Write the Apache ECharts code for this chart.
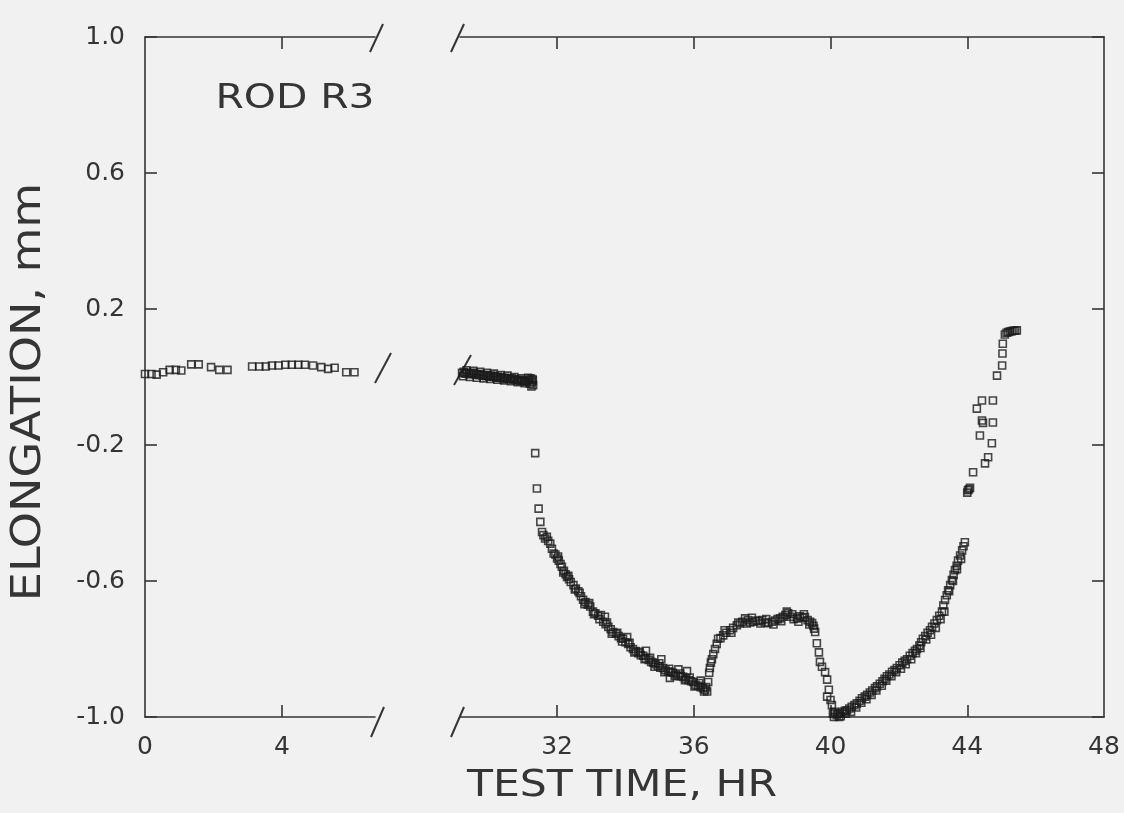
<!DOCTYPE html>
<html><head><meta charset="utf-8">
<script src="https://cdn.jsdelivr.net/npm/echarts@6/dist/echarts.min.js"></script>
<style>html,body{margin:0;padding:0;background:#f1f1f1}#c{width:1124px;height:813px}</style>
</head><body><div id="c"></div>
<script>
// ---- data ----
const yTickLabels = [-1.0, -0.6, -0.2, 0.2, 0.6, 1.0];
const xTicksLeft = [4];
const xLabelsLeft = [0, 4];
const xTicksRight = [32, 36, 40, 44];
const xLabelsRight = [32, 36, 40, 44, 48];

// early period (0 - 6.2 hr)
const timeA = [0.00,0.19,0.34,0.53,0.72,0.90,1.06,1.35,1.57,1.93,2.17,2.41,
  3.13,3.34,3.53,3.71,3.90,4.10,4.29,4.48,4.67,4.91,5.15,5.35,5.54,5.88,6.12];
const elongA = [0.009,0.009,0.007,0.014,0.021,0.021,0.019,0.037,0.037,0.029,0.021,0.021,
  0.031,0.031,0.031,0.034,0.034,0.036,0.036,0.036,0.036,0.034,0.029,0.024,0.027,0.014,0.014];

// late period (29.2 - 45.5 hr), main trace
const timeB = [
  29.22,29.27,29.32,29.37,29.42,29.47,29.52,29.57,29.62,29.67,29.72,29.77,29.82,29.87,29.92,29.97,
  30.02,30.07,30.12,30.17,30.22,30.27,30.32,30.37,30.42,30.47,30.52,30.57,30.62,30.67,30.72,30.77,
  30.82,30.87,30.92,30.97,31.02,31.07,31.12,31.17,31.22,31.26,31.30,31.28,
  31.36,31.41,31.46,31.51,31.56,31.60,31.65,31.70,31.74,31.80,31.85,31.90,31.95,32.00,32.05,32.10,
  32.14,32.20,32.25,32.29,32.35,32.40,32.48,32.55,32.62,32.70,32.76,32.83,32.90,32.97,33.05,33.12,
  33.20,33.28,33.35,33.42,33.50,33.57,33.64,33.72,33.80,33.87,33.93,34.00,34.08,34.15,34.22,34.30,
  34.38,34.45,34.52,34.60,34.68,34.75,34.81,34.88,34.95,35.02,35.10,35.17,35.25,35.32,35.39,35.47,
  35.55,35.62,35.69,35.77,35.85,35.92,35.98,36.05,36.12,36.20,36.27,36.33,36.39,
  33.40,34.05,34.60,35.05,35.30,35.55,35.80,36.20,
  36.42,36.45,36.47,36.50,36.53,36.57,36.62,36.67,36.71,36.78,36.86,36.95,37.06,37.15,37.26,37.35,
  37.42,37.50,37.58,37.65,37.73,37.82,37.90,38.00,38.08,38.18,38.29,38.38,38.45,38.52,38.60,38.68,
  38.76,38.84,38.92,39.02,39.10,39.18,39.25,39.33,39.40,39.46,39.52,39.55,
  39.60,39.66,39.69,39.75,39.84,39.90,39.90,39.95,40.00,40.04,40.07,40.12,40.18,
  40.22,40.28,40.35,40.42,40.48,40.55,40.62,40.70,40.77,40.85,40.92,41.00,41.07,41.15,41.22,41.30,
  41.36,41.44,41.52,41.58,41.65,41.72,41.80,41.87,41.94,42.02,42.10,42.17,42.24,42.32,42.40,42.47,
  42.53,42.60,42.65,42.70,42.77,42.84,42.91,42.97,43.04,43.11,43.18,43.26,43.30,43.35,43.40,43.44,
  43.50,43.55,43.60,43.64,43.69,43.73,43.79,43.85,43.89,43.93,
  44.00,44.02,44.05,44.08,44.17,44.28,44.37,44.43,44.43,44.46,44.52,44.61,44.72,44.75,44.75,44.87,
  45.02,45.03,45.04,45.10,45.15,45.20,45.25,45.30,45.35,45.40,45.45
];
const elongB = [
  0.012,0.015,0.010,0.013,0.008,0.011,0.009,0.012,0.007,0.009,0.005,0.008,0.004,0.006,0.002,0.005,
  0.001,0.004,0.000,0.003,-0.002,0.001,-0.003,-0.001,-0.004,-0.002,-0.005,-0.003,-0.006,-0.004,-0.008,-0.006,
  -0.010,-0.008,-0.012,-0.010,-0.011,-0.014,-0.012,-0.008,-0.004,-0.015,-0.024,-0.006,
  -0.224,-0.328,-0.387,-0.426,-0.456,-0.465,-0.475,-0.470,-0.482,-0.490,-0.505,-0.519,-0.522,-0.534,-0.540,-0.550,
  -0.558,-0.570,-0.580,-0.588,-0.595,-0.603,-0.612,-0.622,-0.630,-0.645,-0.655,-0.662,-0.670,-0.675,-0.690,-0.695,
  -0.702,-0.700,-0.720,-0.727,-0.735,-0.742,-0.750,-0.755,-0.762,-0.768,-0.770,-0.780,-0.785,-0.795,-0.800,-0.806,
  -0.812,-0.818,-0.820,-0.828,-0.832,-0.838,-0.840,-0.845,-0.850,-0.855,-0.856,-0.862,-0.866,-0.868,-0.870,-0.875,
  -0.878,-0.880,-0.882,-0.888,-0.892,-0.895,-0.897,-0.905,-0.908,-0.912,-0.915,-0.920,-0.925,
  -0.705,-0.765,-0.805,-0.830,-0.885,-0.860,-0.865,-0.893,
  -0.897,-0.870,-0.856,-0.840,-0.830,-0.815,-0.800,-0.785,-0.770,-0.768,-0.760,-0.752,-0.745,-0.738,-0.730,-0.725,
  -0.720,-0.710,-0.715,-0.722,-0.720,-0.716,-0.718,-0.715,-0.722,-0.724,-0.720,-0.716,-0.712,-0.710,-0.705,-0.700,
  -0.695,-0.705,-0.712,-0.710,-0.704,-0.708,-0.706,-0.715,-0.720,-0.724,-0.740,-0.750,
  -0.783,-0.810,-0.838,-0.852,-0.868,-0.890,-0.940,-0.920,-0.950,-0.965,-0.990,-0.985,-0.995,
  -0.990,-0.990,-0.985,-0.982,-0.980,-0.975,-0.970,-0.965,-0.960,-0.952,-0.945,-0.940,-0.935,-0.928,-0.922,-0.915,
  -0.910,-0.902,-0.895,-0.888,-0.880,-0.875,-0.867,-0.862,-0.856,-0.848,-0.840,-0.835,-0.830,-0.820,-0.812,-0.805,
  -0.800,-0.790,-0.780,-0.770,-0.762,-0.752,-0.745,-0.735,-0.725,-0.715,-0.702,-0.690,-0.672,-0.656,-0.642,-0.627,
  -0.612,-0.597,-0.582,-0.568,-0.555,-0.540,-0.525,-0.510,-0.498,-0.486,
  -0.340,-0.333,-0.330,-0.326,-0.280,-0.093,-0.172,-0.128,-0.069,-0.135,-0.254,-0.236,-0.195,-0.134,-0.069,0.004,
  0.034,0.069,0.098,0.125,0.130,0.132,0.134,0.135,0.136,0.136,0.137
];

// late period, additional readings inside the thick (overlapping) bands
const timeB2 = [
  29.25,29.35,29.45,29.55,29.65,29.75,29.85,29.95,30.05,30.15,30.25,30.35,30.45,30.55,30.65,30.75,
  30.85,30.95,31.05,31.15,31.20,31.25,31.29,
  32.03,32.18,32.33,32.52,32.66,32.80,32.94,33.08,33.24,33.46,33.60,33.76,33.90,34.12,34.26,34.42,
  34.56,34.72,34.85,34.99,35.14,35.28,35.44,35.60,35.74,35.88,36.02,36.16,36.30,36.36,
  36.90,37.10,37.30,37.55,37.70,37.95,38.12,38.33,38.56,38.72,38.88,39.06,39.22,39.38,39.50,
  40.10,40.25,40.30,40.45,40.60,40.75,40.90,41.05,41.20,41.34,41.50,41.63,41.78,41.92,42.06,42.20,
  42.36,42.50,42.63,42.80,42.94,43.08,43.22,43.33,43.47,43.58,43.70,43.82
];
const elongB2 = [
  0.002,0.020,0.000,0.018,-0.002,0.015,-0.004,0.012,-0.006,0.010,-0.008,0.006,-0.010,0.004,-0.012,0.000,
  -0.015,-0.004,-0.018,-0.002,-0.020,-0.028,-0.010,
  -0.528,-0.575,-0.585,-0.625,-0.635,-0.668,-0.665,-0.698,-0.712,-0.722,-0.755,-0.752,-0.778,-0.782,-0.810,-0.808,
  -0.830,-0.826,-0.852,-0.842,-0.868,-0.858,-0.880,-0.872,-0.892,-0.884,-0.910,-0.900,-0.925,-0.912,
  -0.745,-0.752,-0.722,-0.725,-0.708,-0.725,-0.712,-0.728,-0.718,-0.690,-0.698,-0.720,-0.698,-0.728,-0.732,
  -1.000,-1.000,-0.998,-0.990,-0.985,-0.972,-0.958,-0.948,-0.935,-0.922,-0.908,-0.893,-0.880,-0.868,-0.858,-0.845,
  -0.830,-0.812,-0.797,-0.772,-0.758,-0.738,-0.712,-0.690,-0.630,-0.600,-0.565,-0.535
];

// ---- chart ----
const ink = '#353535';
const lineStyle = {color: ink, width: 1.6};
const font = 'DejaVu Sans';
const zip = (a, b) => a.map((v, i) => [v, b[i]]);

function xAxis(grid, pos, min, max, ticks, labels) {
  return {
    type: 'value', gridIndex: grid, position: pos, min: min, max: max,
    axisLine: {show: true, onZero: false, lineStyle: lineStyle},
    axisTick: {show: true, inside: true, length: 12, lineStyle: lineStyle, customValues: ticks},
    axisLabel: labels ? {show: true, customValues: labels, margin: 18, color: ink,
      fontFamily: font, fontSize: 25} : {show: false},
    splitLine: {show: false}
  };
}
function yAxis(grid, pos, showLabels) {
  return {
    type: 'value', gridIndex: grid, position: pos, min: -1, max: 1, interval: 0.4,
    axisLine: {show: true, onZero: false, lineStyle: lineStyle},
    axisTick: {show: true, inside: true, length: 12, lineStyle: lineStyle},
    axisLabel: showLabels ? {show: true, margin: 20, color: ink, fontFamily: font, fontSize: 25,
      formatter: v => (Math.abs(v) < 1e-9 ? 0 : v).toFixed(1)} : {show: false},
    splitLine: {show: false}
  };
}
const markStyle = {color: 'rgba(0,0,0,0)', borderColor: '#1c1c1c', borderWidth: 1.6};

const slash = (x1, y1, x2, y2) => ({type: 'line', shape: {x1, y1, x2, y2},
  style: {stroke: ink, lineWidth: 2}, silent: true});
const label = (text, x, y, size, sx, rot) => ({type: 'text', x, y, rotation: rot || 0, scaleX: sx, silent: true,
  style: {text, fill: ink, font: size + 'px "' + font + '"', textAlign: 'center', textVerticalAlign: 'middle'}});

const chart = echarts.init(document.getElementById('c'), null, {renderer: 'canvas'});
chart.setOption({
  backgroundColor: '#f1f1f1',
  animation: false,
  grid: [
    {left: 145, top: 37, width: 230, height: 680},
    {left: 460, top: 37, width: 644, height: 680}
  ],
  xAxis: [
    xAxis(0, 'bottom', 0, 6.72, xTicksLeft, xLabelsLeft),
    xAxis(0, 'top', 0, 6.72, xTicksLeft, null),
    xAxis(1, 'bottom', 29.16, 48, xTicksRight, xLabelsRight),
    xAxis(1, 'top', 29.16, 48, xTicksRight, null)
  ],
  yAxis: [
    yAxis(0, 'left', true),
    yAxis(1, 'right', false)
  ],
  series: [
    {type: 'scatter', xAxisIndex: 0, yAxisIndex: 0, symbol: 'rect', symbolSize: 7,
      itemStyle: markStyle, data: zip(timeA, elongA)},
    {type: 'scatter', xAxisIndex: 2, yAxisIndex: 1, symbol: 'rect', symbolSize: 7,
      itemStyle: markStyle, data: zip(timeB, elongB).concat(zip(timeB2, elongB2))}
  ],
  graphic: [
    slash(370, 52, 383, 24), slash(451, 52, 464, 24),
    slash(375, 383, 391, 353), slash(454, 385, 471, 355),
    slash(371, 737, 384, 707), slash(451, 737, 464, 707),
    label('ROD R3', 295, 99, 34, 1.2),
    label('ELONGATION, mm', 30, 392, 40, 1.15, Math.PI / 2),
    label('TEST TIME, HR', 622, 786, 38, 1.12)
  ]
});
</script>
</body></html>
